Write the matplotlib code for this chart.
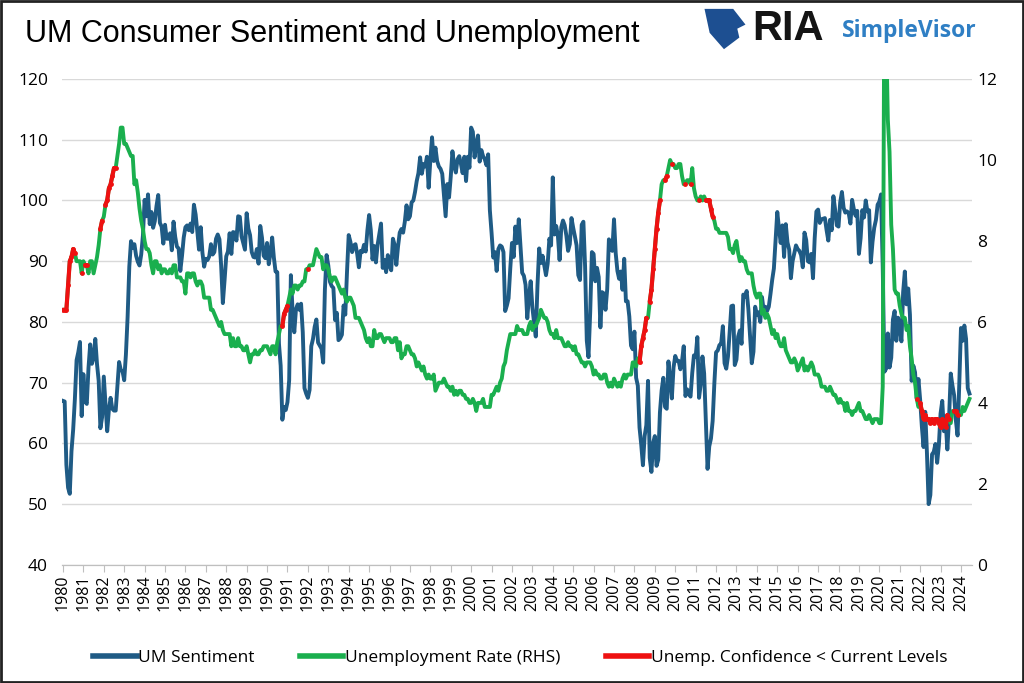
import numpy as np
import matplotlib
matplotlib.use("Agg")
import matplotlib.pyplot as plt
from matplotlib.patches import Polygon, Rectangle

# monthly data, Jan 1980 .. Jun 2024
start_year = 1980
um_sentiment = [
    67.0, 66.9, 56.5, 52.7, 51.7, 58.7, 62.3, 67.3, 73.7, 75.0, 76.7, 64.5,  # 1980
    71.4, 66.9, 66.5, 72.4, 76.3, 73.1, 74.1, 77.2, 73.1, 70.3, 62.5, 64.3,
    71.0, 66.5, 62.0, 65.5, 67.5, 65.7, 65.4, 65.4, 69.3, 73.4, 72.1, 71.9,
    70.4, 74.6, 80.8, 89.1, 93.3, 92.2, 92.8, 90.9, 89.9, 89.3, 91.1, 94.2,
    100.1, 97.4, 101.0, 96.1, 98.1, 95.5, 96.6, 99.1, 100.9, 96.3, 95.7, 92.9,
    96.0, 93.7, 93.7, 94.6, 91.8, 96.5, 94.0, 92.4, 92.1, 88.4, 90.9, 93.9,  # 1985
    95.6, 95.9, 95.1, 96.2, 94.8, 99.3, 97.7, 94.9, 91.9, 95.6, 91.4, 89.1,
    90.4, 90.2, 90.8, 92.8, 91.1, 91.5, 93.7, 94.4, 93.6, 89.3, 83.1, 86.8,
    90.8, 91.6, 94.6, 91.2, 94.8, 94.7, 93.4, 97.4, 97.3, 94.1, 93.0, 91.9,
    97.9, 95.4, 94.3, 91.5, 90.7, 90.6, 92.0, 89.6, 95.8, 93.9, 90.9, 90.5,
    93.0, 89.5, 91.3, 93.9, 90.6, 88.3, 88.2, 76.4, 72.8, 63.9, 66.0, 65.5,  # 1990
    66.8, 70.4, 87.7, 81.8, 78.3, 82.1, 82.9, 82.0, 83.0, 78.3, 69.1, 68.2,
    67.5, 68.8, 76.0, 77.2, 79.2, 80.4, 76.6, 76.1, 75.6, 73.3, 85.3, 91.0,
    89.3, 86.6, 85.9, 85.6, 80.3, 81.5, 77.0, 77.3, 77.9, 82.7, 81.2, 88.2,
    94.3, 93.2, 91.5, 92.6, 92.8, 91.2, 89.0, 91.7, 91.5, 92.7, 91.6, 95.1,
    97.6, 95.1, 90.3, 92.5, 89.8, 92.7, 94.4, 96.2, 88.9, 90.2, 88.2, 91.0,  # 1995
    89.3, 88.5, 93.7, 92.7, 89.4, 92.4, 94.7, 95.3, 94.7, 96.5, 99.2, 96.9,
    97.4, 99.7, 100.0, 101.4, 103.2, 104.5, 107.1, 104.4, 106.0, 105.6, 107.2, 102.1,
    106.6, 110.4, 106.5, 108.7, 106.5, 105.6, 105.2, 104.4, 100.9, 97.4, 102.7, 100.5,
    103.9, 108.1, 105.7, 104.6, 106.8, 107.3, 106.0, 104.5, 107.2, 103.2, 107.2, 105.4,
    112.0, 111.3, 107.1, 109.2, 110.7, 106.4, 108.3, 107.3, 106.8, 105.8, 107.6, 98.4,  # 2000
    94.7, 90.6, 91.5, 88.4, 92.0, 92.6, 92.4, 91.5, 81.8, 82.7, 83.9, 88.8,
    93.0, 90.7, 95.7, 93.0, 96.9, 92.4, 88.1, 87.6, 86.1, 80.6, 84.2, 86.7,
    82.4, 79.9, 77.6, 86.0, 92.1, 89.7, 90.9, 89.3, 87.7, 89.6, 93.7, 92.6,
    103.8, 94.4, 95.8, 94.2, 90.2, 95.6, 96.7, 95.9, 94.2, 91.7, 92.8, 97.1,
    95.5, 94.1, 92.6, 87.7, 86.9, 96.0, 96.5, 89.1, 76.9, 74.2, 81.6, 91.5,  # 2005
    91.2, 86.7, 88.9, 87.4, 79.1, 84.9, 84.7, 82.0, 85.4, 93.6, 92.1, 91.7,
    96.9, 91.3, 88.4, 87.1, 88.3, 85.3, 90.4, 83.4, 83.4, 80.9, 76.1, 75.5,
    78.4, 70.8, 69.5, 62.6, 59.8, 56.4, 61.2, 63.0, 70.3, 57.6, 55.3, 60.1,
    61.2, 56.3, 57.3, 65.1, 68.7, 70.8, 66.0, 65.7, 73.5, 70.6, 67.4, 72.5,
    74.4, 73.6, 73.6, 72.2, 73.6, 76.0, 67.8, 68.9, 68.2, 67.7, 71.6, 74.5,  # 2010
    74.2, 77.5, 67.5, 69.8, 74.3, 71.5, 63.7, 55.8, 59.5, 60.8, 63.7, 69.9,
    75.0, 75.3, 76.2, 76.4, 79.3, 73.2, 72.3, 74.3, 78.3, 82.6, 82.7, 72.9,
    73.8, 77.6, 78.6, 76.4, 84.5, 84.1, 85.1, 82.1, 77.5, 73.2, 75.1, 82.5,
    81.2, 81.6, 80.0, 84.1, 81.9, 82.5, 81.8, 82.5, 84.6, 86.9, 88.8, 93.6,
    98.1, 95.4, 93.0, 95.9, 90.7, 96.1, 93.1, 91.9, 87.2, 90.0, 91.3, 92.6,  # 2015
    92.0, 91.7, 91.0, 89.0, 94.7, 93.5, 90.0, 89.8, 91.2, 87.2, 93.8, 98.2,
    98.5, 96.3, 96.9, 97.0, 97.1, 95.1, 93.4, 96.8, 95.1, 100.7, 98.5, 95.9,
    95.7, 99.7, 101.4, 98.8, 98.0, 98.2, 97.9, 96.2, 100.1, 98.6, 97.5, 98.3,
    91.2, 93.8, 98.4, 97.2, 100.0, 98.2, 98.4, 89.8, 93.2, 95.5, 96.8, 99.3,
    99.8, 101.0, 89.1, 71.8, 72.3, 78.1, 72.5, 74.1, 80.4, 81.8, 76.9, 80.7,  # 2020
    79.0, 76.8, 84.9, 88.3, 82.9, 85.5, 81.2, 70.3, 72.8, 71.7, 67.4, 70.6,
    67.2, 62.8, 59.4, 65.2, 58.4, 50.0, 51.5, 58.2, 58.6, 59.9, 56.8, 59.7,
    64.9, 67.0, 62.0, 63.7, 59.0, 64.2, 71.5, 69.5, 67.9, 63.8, 61.3, 69.7,
    79.0, 76.9, 79.4, 77.2, 69.1, 68.2,
]
unemployment = [
    6.3, 6.3, 6.3, 6.9, 7.5, 7.6, 7.8, 7.7, 7.5, 7.5, 7.5, 7.2,  # 1980
    7.5, 7.4, 7.4, 7.2, 7.5, 7.5, 7.2, 7.4, 7.6, 7.9, 8.3, 8.5,
    8.6, 8.9, 9.0, 9.3, 9.4, 9.6, 9.8, 9.8, 10.1, 10.4, 10.8, 10.8,
    10.4, 10.4, 10.3, 10.2, 10.1, 10.1, 9.4, 9.5, 9.2, 8.8, 8.5, 8.3,
    8.0, 7.8, 7.8, 7.7, 7.4, 7.2, 7.5, 7.5, 7.3, 7.4, 7.2, 7.3,
    7.3, 7.2, 7.2, 7.3, 7.2, 7.4, 7.4, 7.1, 7.1, 7.1, 7.0, 7.0,  # 1985
    6.7, 7.2, 7.2, 7.1, 7.2, 7.2, 7.0, 6.9, 7.0, 7.0, 6.9, 6.6,
    6.6, 6.6, 6.6, 6.3, 6.3, 6.2, 6.1, 6.0, 5.9, 6.0, 5.8, 5.7,
    5.7, 5.7, 5.7, 5.4, 5.6, 5.4, 5.4, 5.6, 5.4, 5.4, 5.3, 5.3,
    5.4, 5.2, 5.0, 5.2, 5.2, 5.3, 5.2, 5.2, 5.3, 5.3, 5.4, 5.4,
    5.4, 5.3, 5.2, 5.4, 5.4, 5.2, 5.5, 5.7, 5.9, 5.9, 6.2, 6.3,  # 1990
    6.4, 6.6, 6.8, 6.7, 6.9, 6.9, 6.8, 6.9, 6.9, 7.0, 7.0, 7.3,
    7.3, 7.4, 7.4, 7.4, 7.6, 7.8, 7.7, 7.6, 7.6, 7.3, 7.4, 7.4,
    7.3, 7.1, 7.0, 7.1, 7.1, 7.0, 6.9, 6.8, 6.7, 6.8, 6.6, 6.5,
    6.6, 6.6, 6.5, 6.4, 6.1, 6.1, 6.1, 6.0, 5.9, 5.8, 5.6, 5.5,
    5.6, 5.4, 5.4, 5.8, 5.6, 5.6, 5.7, 5.7, 5.6, 5.5, 5.6, 5.6,  # 1995
    5.6, 5.5, 5.5, 5.6, 5.6, 5.3, 5.5, 5.1, 5.2, 5.2, 5.4, 5.4,
    5.3, 5.2, 5.2, 5.1, 4.9, 5.0, 4.9, 4.8, 4.9, 4.7, 4.6, 4.7,
    4.6, 4.6, 4.7, 4.3, 4.4, 4.5, 4.5, 4.5, 4.6, 4.5, 4.4, 4.4,
    4.3, 4.4, 4.2, 4.3, 4.2, 4.3, 4.3, 4.2, 4.2, 4.1, 4.1, 4.0,
    4.0, 4.1, 4.0, 3.8, 4.0, 4.0, 4.0, 4.1, 3.9, 3.9, 3.9, 3.9,  # 2000
    4.2, 4.2, 4.3, 4.4, 4.3, 4.5, 4.6, 4.9, 5.0, 5.3, 5.5, 5.7,
    5.7, 5.7, 5.7, 5.9, 5.8, 5.8, 5.8, 5.7, 5.7, 5.7, 5.9, 6.0,
    5.8, 5.9, 5.9, 6.0, 6.1, 6.3, 6.2, 6.1, 6.1, 6.0, 5.8, 5.7,
    5.7, 5.6, 5.8, 5.6, 5.6, 5.6, 5.5, 5.4, 5.4, 5.5, 5.4, 5.4,
    5.3, 5.4, 5.2, 5.2, 5.1, 5.0, 5.0, 4.9, 5.0, 5.0, 5.0, 4.9,  # 2005
    4.7, 4.8, 4.7, 4.7, 4.6, 4.6, 4.7, 4.7, 4.5, 4.4, 4.5, 4.4,
    4.6, 4.5, 4.4, 4.5, 4.4, 4.6, 4.7, 4.6, 4.7, 4.7, 4.7, 5.0,
    5.0, 4.9, 5.1, 5.0, 5.4, 5.6, 5.8, 6.1, 6.1, 6.5, 6.8, 7.3,
    7.8, 8.3, 8.7, 9.0, 9.4, 9.5, 9.5, 9.6, 9.8, 10.0, 9.9, 9.9,
    9.8, 9.8, 9.9, 9.9, 9.6, 9.4, 9.4, 9.5, 9.5, 9.4, 9.8, 9.3,  # 2010
    9.1, 9.0, 9.0, 9.1, 9.0, 9.1, 9.0, 9.0, 9.0, 8.8, 8.6, 8.5,
    8.3, 8.3, 8.2, 8.2, 8.2, 8.2, 8.2, 8.1, 7.8, 7.8, 7.7, 7.9,
    8.0, 7.7, 7.5, 7.6, 7.5, 7.5, 7.3, 7.2, 7.2, 7.2, 6.9, 6.7,
    6.6, 6.7, 6.7, 6.2, 6.3, 6.1, 6.2, 6.1, 5.9, 5.7, 5.8, 5.6,
    5.7, 5.5, 5.4, 5.4, 5.6, 5.3, 5.2, 5.1, 5.0, 5.0, 5.1, 5.0,  # 2015
    4.8, 4.9, 5.0, 5.1, 4.8, 4.9, 4.8, 4.9, 5.0, 4.9, 4.7, 4.7,
    4.7, 4.6, 4.4, 4.4, 4.4, 4.3, 4.3, 4.4, 4.3, 4.2, 4.2, 4.1,
    4.0, 4.1, 4.0, 4.0, 3.8, 4.0, 3.8, 3.8, 3.7, 3.8, 3.8, 3.9,
    4.0, 3.8, 3.8, 3.7, 3.6, 3.6, 3.7, 3.6, 3.5, 3.6, 3.6, 3.6,
    3.5, 3.5, 4.4, 14.8, 13.2, 11.0, 10.2, 8.4, 7.8, 6.8, 6.7, 6.7,  # 2020
    6.4, 6.2, 6.1, 6.1, 5.8, 5.9, 5.4, 5.1, 4.7, 4.5, 4.1, 3.9,
    4.0, 3.8, 3.6, 3.7, 3.6, 3.6, 3.5, 3.6, 3.5, 3.6, 3.6, 3.5,
    3.4, 3.6, 3.5, 3.4, 3.7, 3.6, 3.5, 3.8, 3.8, 3.8, 3.7, 3.7,
    3.7, 3.9, 3.8, 3.9, 4.0, 4.1,
]
year_ticks = list(range(1980, 2025))

BLUE = "#1f5b85"
GREEN = "#1aaf4e"
RED = "#ee1111"

sent = np.array(um_sentiment)
unemp = np.array(unemployment)
x = start_year + np.arange(len(sent)) / 12.0

# red: months where sentiment was below the current (latest) reading
mask = sent < sent[-1]
unemp_red = np.where(mask, unemp, np.nan)

fig = plt.figure(figsize=(10.24, 6.83), dpi=100)
fig.patch.set_facecolor("white")
ax = fig.add_axes([0.0605, 0.173, 0.8885, 0.7113])
ax2 = ax.twinx()

ax.plot(x, sent, color=BLUE, lw=2.8, solid_joinstyle="round")
ax2.plot(x, unemp, color=GREEN, lw=2.8, solid_joinstyle="round")
ax2.plot(x, unemp_red, color=RED, lw=3.0, solid_capstyle="round",
         marker="o", ms=3.5, markeredgewidth=0)

ax.set_xlim(1979.95, 2024.53)
ax.set_ylim(40, 120)
ax2.set_ylim(0, 12)
ax.set_yticks(range(40, 121, 10))
ax2.set_yticks(range(0, 13, 2))
ax.set_xticks(year_ticks)
ax.set_xticklabels([str(y) for y in year_ticks], rotation=90,
                   fontsize=11.5, family="Open Sans")
ax.tick_params(axis="x", length=5, color="#bfbfbf", pad=2)
ax.tick_params(axis="y", length=0, pad=10, labelsize=12.5)
ax2.tick_params(axis="y", length=0, pad=4, labelsize=12.5)
for lab in ax.get_yticklabels() + ax2.get_yticklabels():
    lab.set_family("Open Sans")

ax.grid(axis="y", color="#d9d9d9", lw=1.0)
ax.set_axisbelow(True)
for a in (ax, ax2):
    for s in ("top", "left", "right"):
        a.spines[s].set_visible(False)
    a.spines["bottom"].set_color("#bfbfbf")

# legend
h1, = ax.plot([], [], color=BLUE, lw=4, label="UM Sentiment")
h2, = ax.plot([], [], color=GREEN, lw=4, label="Unemployment Rate (RHS)")
h3, = ax.plot([], [], color=RED, lw=4, label="Unemp. Confidence < Current Levels")
fig.legend(handles=[h1, h2, h3], loc="center", bbox_to_anchor=(0.508, 0.036),
           ncol=3, frameon=False, handlelength=2.5, handletextpad=0.1,
           columnspacing=2.6, prop={"family": "Open Sans", "size": 12.5})

# title and logo
fig.text(0.024, 0.950, "UM Consumer Sentiment and Unemployment",
         fontsize=22, family="Liberation Sans", va="center", ha="left")
fig.text(0.735, 0.957, "RIA", fontsize=30, fontweight="bold",
         family="Liberation Sans", color="#141414", va="center", ha="left")
fig.text(0.822, 0.954, "SimpleVisor", fontsize=16.5, fontweight="bold",
         family="Open Sans", color="#2f7fc4", va="center", ha="left")
emblem = Polygon([(0.688, 0.987), (0.716, 0.987), (0.728, 0.964), (0.720, 0.958),
                  (0.722, 0.945), (0.707, 0.928), (0.693, 0.952)],
                 closed=True, transform=fig.transFigure, facecolor="#1d4f91",
                 edgecolor="none")
fig.patches.append(emblem)

# outer frame
fig.patches.append(Rectangle((0.001, 0.001), 0.998, 0.998, transform=fig.transFigure,
                             fill=False, edgecolor="#222222", lw=2))

fig.savefig("out.png", dpi=100)
